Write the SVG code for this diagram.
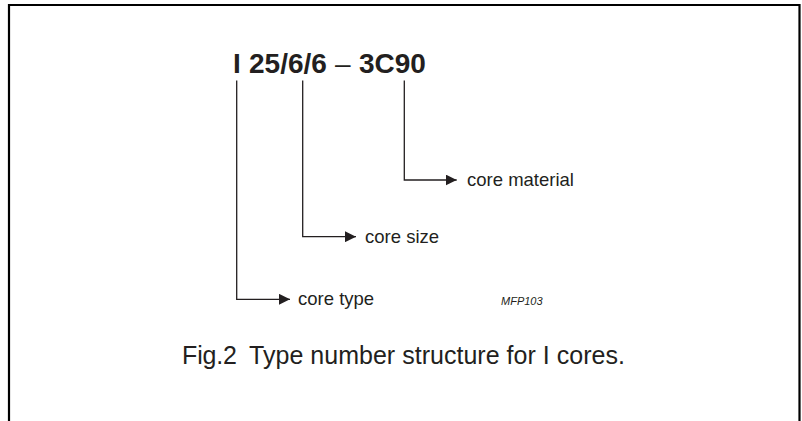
<svg xmlns="http://www.w3.org/2000/svg" width="802" height="421" viewBox="0 0 802 421">
<style>
.frame{fill:none;stroke:#000;stroke-width:2.2}
.conn{fill:none;stroke:#231f20;stroke-width:1.3}
.lbl{font-family:"Liberation Sans",Arial,sans-serif;font-size:18.5px;fill:#231f20}
.title{font-family:"Liberation Sans",Arial,sans-serif;font-size:28px;font-weight:bold;fill:#231f20}
.cap{font-family:"Liberation Sans",Arial,sans-serif;font-size:25px;fill:#231f20}
.code{font-family:"Liberation Sans",Arial,sans-serif;font-size:11px;font-style:italic;fill:#231f20}
</style>
<defs>
<marker id="ah" viewBox="0 0 11 11" refX="11" refY="5.5" markerWidth="11" markerHeight="11" markerUnits="userSpaceOnUse" orient="auto">
<path d="M0,0 L11,5.5 L0,11 Z" fill="#231f20"/>
</marker>
</defs>
<path class="frame" d="M9,421 V5 H799.5 V421"/>
<g id="title">
<text class="title" y="73.3"><tspan x="233">I</tspan><tspan x="249">25/6/6</tspan><tspan x="335" font-weight="normal">–</tspan><tspan x="359">3C90</tspan></text>
</g>
<g id="connectors">
<path class="conn" d="M236.7,80.5 V299.3 H290" marker-end="url(#ah)"/>
<path class="conn" d="M302.7,80.5 V236.7 H356" marker-end="url(#ah)"/>
<path class="conn" d="M404.3,80.5 V180 H456.7" marker-end="url(#ah)"/>
</g>
<g id="core-material"><text class="lbl" x="467" y="186">core material</text></g>
<g id="core-size"><text class="lbl" x="365" y="242.5">core size</text></g>
<g id="core-type"><text class="lbl" x="298" y="305">core type</text></g>
<g id="code"><text class="code" x="501" y="305">MFP103</text></g>
<g id="caption"><text class="cap" y="364"><tspan x="182" textLength="55">Fig.2</tspan><tspan x="249" textLength="376">Type number structure for I cores.</tspan></text></g>
</svg>
